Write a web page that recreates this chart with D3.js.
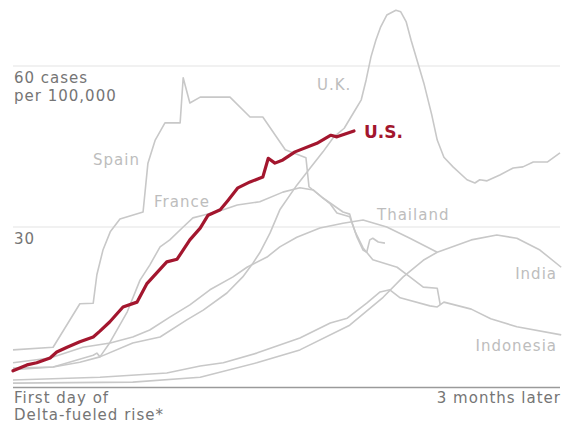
<!DOCTYPE html>
<html>
<head>
<meta charset="utf-8">
<script src="https://cdn.jsdelivr.net/npm/d3@7"></script>
<style>
  body { margin: 0; background: #fff; }
  svg { display: block; font-family: "DejaVu Sans", sans-serif; }
  .txt { font-size: 15px; letter-spacing: 1px; }
</style>
</head>
<body>
<div id="chart"></div>
<script>
// [day since start of Delta rise, cases per 100,000]
const spain = [[0,7.1],[6.6,7.6],[11.0,15.7],[13.2,15.8],[13.8,21.1],[14.8,25.7],[16.0,29.1],[17.6,31.5],[21.4,32.8],[22.2,41.9],[23.4,46.2],[25.0,49.4],[27.5,49.4],[28.0,57.8],[29.1,53.1],[30.8,54.2],[35.7,54.2],[39.0,50.5],[41.1,50.5],[44.8,44.4],[48.2,42.9],[48.7,37.5],[52.2,34.3],[53.3,32.6],[55.4,31.9],[56.3,29.1],[57.6,26.1],[59.2,23.9],[63.2,22.5],[65.3,20.7],[67.5,18.8],[69.8,18.6],[70.3,15.5]];
const france = [[0,3.7],[6.6,3.9],[13.2,6.1],[13.8,6.5],[14.3,5.8],[15.9,8.4],[18.8,14.2],[20.9,20.1],[22.5,22.9],[24.2,26.3],[25.8,27.6],[28.0,30.0],[29.6,31.7],[31.3,32.2],[34.6,33.2],[36.9,34.1],[40.6,34.7],[44.4,36.5],[47.2,37.3],[49.4,36.9],[51.0,35.4],[54.3,32.8],[55.4,32.4],[55.9,30.4],[56.6,28.1],[57.6,25.7],[58.2,25.3],[58.7,27.6],[59.2,27.9],[60.1,27.2],[61.2,27.0]];
const uk = [[0,3.4],[6.6,3.9],[11.0,4.8],[14.3,5.8],[19.7,8.4],[24.2,9.5],[28.6,12.7],[31.3,14.5],[35.2,17.7],[37.8,20.7],[39.5,23.3],[40.6,25.2],[42.3,28.9],[43.9,33.2],[46.7,37.8],[48.9,41.0],[51.0,44.0],[52.8,46.8],[54.5,48.4],[56.3,51.8],[57.3,53.7],[58.1,57.4],[58.9,61.7],[59.7,64.8],[60.5,67.3],[61.5,69.5],[63.0,70.4],[63.8,70.1],[64.7,68.2],[65.5,64.8],[66.6,60.6],[67.6,56.8],[68.9,50.9],[69.8,46.2],[70.9,43.0],[72.4,41.2],[74.7,38.8],[76.0,38.2],[76.8,38.8],[78.0,38.6],[80.1,39.7],[82.3,41.0],[83.9,41.2],[85.6,42.1],[87.9,42.1],[90.0,43.8]];
const thailand = [[0,4.7],[6.1,5.6],[11.5,7.6],[16.0,8.4],[19.7,9.5],[22.5,10.8],[25.8,13.2],[29.1,15.5],[32.4,18.3],[36.2,20.7],[38.5,22.5],[41.8,24.4],[43.9,26.3],[46.7,28.1],[50.5,29.8],[54.3,30.7],[57.6,31.3],[61.5,30.0],[65.3,27.9],[69.8,25.3]];
const india = [[0,0.9],[19.7,1.1],[30.8,2.0],[40.1,4.7],[47.2,7.1],[55.4,11.7],[60.9,16.9],[64.2,20.7],[67.5,23.8],[69.8,25.3],[75.4,27.6],[79.6,28.5],[82.9,27.9],[86.7,25.7],[90.2,22.5]];
const indonesia = [[0,1.5],[14.3,2.0],[25.3,2.8],[30.8,4.1],[34.6,4.7],[40.1,6.5],[47.2,9.3],[52.2,12.1],[55.0,13.0],[58.2,15.8],[60.4,17.9],[62.0,18.3],[63.7,16.8],[68.6,15.3],[69.8,15.1],[70.9,16.0],[75.4,14.7],[78.6,12.9],[82.9,11.4],[90.2,9.9]];
const us = [[0,3.2],[2.3,4.3],[3.9,4.7],[6.1,5.6],[7.2,6.7],[8.9,7.6],[11.0,8.6],[13.2,9.5],[14.3,10.6],[15.9,12.3],[18.1,15.1],[20.4,16.0],[22.0,19.4],[25.3,23.5],[27.0,24.0],[29.1,27.6],[30.8,29.8],[32.1,32.2],[34.1,33.2],[35.4,35.0],[37.0,37.3],[39.0,38.4],[41.1,39.3],[42.0,42.8],[43.1,41.9],[44.4,42.5],[46.4,44.0],[50.0,45.6],[52.3,47.1],[53.3,46.8],[56.1,47.9]];

const grayCountries = ["Spain", "France", "U.K.", "Thailand", "India", "Indonesia"];
const graySeries = [spain, france, uk, thailand, india, indonesia];
const gridValues = [30, 60];

const width = 569, height = 424;
const x = d3.scaleLinear().domain([0, 90]).range([13, 560]);
const y = d3.scaleLinear().domain([0, 60]).range([388, 66]);

const svg = d3.select("#chart").append("svg")
  .attr("width", width)
  .attr("height", height);

// gridlines
svg.selectAll(".grid")
  .data(gridValues)
  .enter().append("line")
  .attr("x1", x(0)).attr("x2", x(90))
  .attr("y1", d => y(d)).attr("y2", d => y(d))
  .attr("stroke", "#ececec")
  .attr("stroke-width", 1.5);

// baseline
svg.append("line")
  .attr("x1", x(0)).attr("x2", x(90))
  .attr("y1", y(0) - 0.5).attr("y2", y(0) - 0.5)
  .attr("stroke", "#9a9a9a")
  .attr("stroke-width", 1.5);

const line = d3.line()
  .x(d => x(d[0]))
  .y(d => y(d[1]));

svg.selectAll(".country")
  .data(graySeries)
  .enter().append("path")
  .attr("class", "country")
  .attr("d", line)
  .attr("fill", "none")
  .attr("stroke", "#c8c8c8")
  .attr("stroke-width", 1.6)
  .attr("stroke-linejoin", "round");

svg.append("path")
  .attr("d", line(us))
  .attr("fill", "none")
  .attr("stroke", "#a3162e")
  .attr("stroke-width", 3.2)
  .attr("stroke-linejoin", "round")
  .attr("stroke-linecap", "round");

// axis labels
const axisText = "#757575";
const axisLabels = [
  { t: "60 cases", x: 14, y: 83 },
  { t: "per 100,000", x: 14, y: 101 },
  { t: "30", x: 14, y: 244 },
  { t: "First day of", x: 14, y: 403 },
  { t: "Delta-fueled rise*", x: 14, y: 420 },
  { t: "3 months later", x: 561, y: 403, anchor: "end" }
];
svg.selectAll(".axis-label")
  .data(axisLabels)
  .enter().append("text")
  .attr("class", "txt")
  .attr("x", d => d.x)
  .attr("y", d => d.y)
  .attr("text-anchor", d => d.anchor || "start")
  .attr("fill", axisText)
  .text(d => d.t);

// country labels
const labelPos = [
  { name: "Spain", x: 93, y: 165 },
  { name: "France", x: 154, y: 207 },
  { name: "U.K.", x: 317, y: 90 },
  { name: "Thailand", x: 377, y: 220 },
  { name: "India", x: 557, y: 279, anchor: "end" },
  { name: "Indonesia", x: 557, y: 351, anchor: "end" }
];
svg.selectAll(".label")
  .data(labelPos)
  .enter().append("text")
  .attr("class", "txt")
  .attr("x", d => d.x)
  .attr("y", d => d.y)
  .attr("text-anchor", d => d.anchor || "start")
  .attr("fill", "#bdbdbd")
  .text(d => d.name);

svg.append("text")
  .attr("x", 364).attr("y", 138)
  .attr("fill", "#a3162e")
  .style("font-size", "17px")
  .style("font-weight", "bold")
  .text("U.S.");
</script>
</body>
</html>
